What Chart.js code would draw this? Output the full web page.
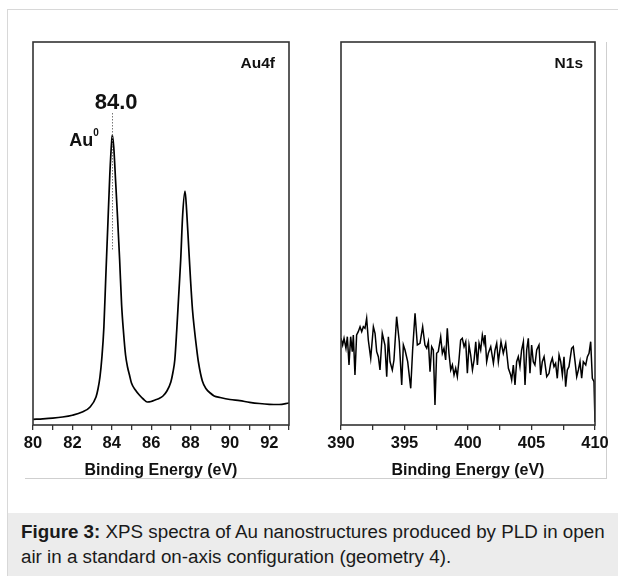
<!DOCTYPE html>
<html>
<head>
<meta charset="utf-8">
<script src="https://cdn.jsdelivr.net/npm/chart.js@4.4.1/dist/chart.umd.min.js"></script>
<style>
  html, body { margin: 0; padding: 0; background: #fff; }
  body { width: 618px; height: 576px; position: relative; overflow: hidden; font-family: "Liberation Sans", Arial, sans-serif; }
  .outer { position: absolute; left: 7px; top: 9px; width: 640px; height: 600px; border-left: 1px solid #d8d8d8; border-top: 1px solid #d8d8d8; }
  .imgedge { position: absolute; left: 25px; top: 42px; width: 581px; height: 436px; border-right: 1px solid #cfcfcf; border-bottom: 1px solid #cfcfcf; }
  .box { position: absolute; top: 0; height: 500px; }
  #boxL { left: 0; width: 310px; }
  #boxR { left: 310px; width: 308px; }
  .caption { position: absolute; left: 8px; top: 513px; width: 610px; height: 63px; background: #ececec; }
  .caption p { margin: 0; position: absolute; left: 13px; top: 6px; font-size: 18.8px; line-height: 25px; color: #1a1a1a; white-space: nowrap; }
</style>
</head>
<body>
<div class="outer"></div>
<div class="imgedge"></div>
<div class="box" id="boxL"><canvas id="chartL"></canvas></div>
<div class="box" id="boxR"><canvas id="chartR"></canvas></div>
<div class="caption"><p><b>Figure 3:</b> XPS spectra of Au nanostructures produced by PLD in open<br>air in a standard on-axis configuration (geometry 4).</p></div>
<script>
// --- DATA: Au4f region ---
const auEnergy = [80.0, 80.5, 81.0, 81.5, 82.0, 82.5, 82.9, 83.2, 83.3, 83.4, 83.5, 83.6, 83.7, 83.8, 83.9, 84.0, 84.03, 84.1,
  84.2, 84.3, 84.4, 84.5, 84.6, 84.7, 84.8, 84.9, 85.0, 85.2, 85.4, 85.6, 85.8, 86.0, 86.2, 86.4, 86.6, 86.8, 87.0, 87.1,
  87.2, 87.3, 87.4, 87.5, 87.6, 87.72, 87.8, 87.9, 88.0, 88.1, 88.2, 88.3, 88.4, 88.6, 88.8, 89.0, 89.2, 89.5, 90.0, 90.5,
  91.0, 91.5, 92.0, 92.5, 93.0];
const auCounts = [5.7, 6.2, 6.9, 8, 9.8, 13, 18, 28, 36, 48, 68, 98, 150, 200, 250, 285, 290, 278,
  242, 205, 165, 120, 92, 70, 58, 50, 42, 35, 30, 26, 23, 23.5, 25, 26.5, 29, 34, 43, 52,
  65, 95, 130, 165, 210, 234, 215, 180, 145, 115, 95, 78, 63, 44, 36, 32, 29, 27.5, 25.5, 24.3,
  22.7, 21.5, 20.7, 20.5, 22];

// --- DATA: N1s region ---
const nEnergy = [390.0, 390.13, 390.24, 390.39, 390.50, 390.63, 390.76, 390.89, 390.97, 391.10, 391.23, 391.36, 391.50,
  391.63, 391.76, 391.89, 392.02, 392.15, 392.34, 392.55, 392.68, 392.81, 392.94, 393.07, 393.25, 393.46, 393.60, 393.73,
  393.86, 394.04, 394.17, 394.38, 394.59, 394.78, 394.91, 395.04, 395.25, 395.49, 395.64, 395.83, 396.01, 396.22, 396.43,
  396.61, 396.75, 396.88, 397.01, 397.14, 397.27, 397.40, 397.53, 397.66, 397.85, 397.98, 398.11, 398.24, 398.37, 398.50,
  398.64, 398.77, 398.90, 399.03, 399.16, 399.29, 399.42, 399.55, 399.69, 399.82, 399.95, 400.08, 400.21, 400.35, 400.48,
  400.61, 400.74, 400.87, 401.00, 401.13, 401.26, 401.34, 401.47, 401.60, 401.79, 402.00, 402.13, 402.26, 402.39, 402.60,
  402.78, 402.97, 403.18, 403.36, 403.44, 403.57, 403.70, 403.83, 403.96, 404.09, 404.22, 404.36, 404.49, 404.62, 404.75,
  404.88, 405.01, 405.14, 405.27, 405.41, 405.59, 405.72, 405.85, 405.99, 406.20, 406.38, 406.51, 406.64, 406.77, 406.90,
  407.03, 407.17, 407.30, 407.43, 407.56, 407.69, 407.82, 407.95, 408.16, 408.29, 408.43, 408.56, 408.69, 408.82, 408.95,
  409.08, 409.27, 409.40, 409.53, 409.66, 409.79, 409.92, 410.0];
const nCounts = [86.7, 80, 86.7, 76.7, 88.3, 60, 88.3, 73.3, 90, 50, 90, 93.3, 98.3,
  93.3, 98.3, 96.7, 106.7, 85, 66.7, 98.3, 91.7, 73.3, 68.3, 55, 91.7, 80, 48.3, 88.3,
  63.3, 55, 65, 108.3, 83.3, 40, 80, 75, 63.3, 36.7, 75, 111.7, 80, 81.7, 98.3,
  80, 76.7, 83.3, 53.3, 78.3, 75, 20, 71.7, 73.3, 88.3, 71.7, 76.7, 65, 96.7, 71.7,
  55, 60, 50, 56.7, 48.3, 65, 85, 86.7, 78.3, 83.3, 51.7, 80, 70, 55, 65,
  83.3, 60, 81.7, 75, 90, 81.7, 90, 63.3, 71.7, 78.3, 61.7, 75, 81.7, 63.3, 83.3,
  71.7, 81.7, 56.7, 50, 45, 60, 40, 63.3, 68.3, 58.3, 75, 83.3, 40, 75, 86.7,
  51.7, 80, 63.3, 60, 75, 80, 50, 63.3, 68.3, 48.3, 51.7, 61.7, 66.7, 58.3, 61.7,
  46.7, 70, 63.3, 50, 68.3, 38.3, 55, 58.3, 76.7, 78.3, 63.3, 48.3, 55, 63.3, 46.7,
  63.3, 60, 68.3, 71.7, 83.3, 46.7, 43.3, 3];

// --- AXES ---
const auTicks = [80, 82, 84, 86, 88, 90, 92];
const nTicks = [390, 395, 400, 405, 410];
const yMax = 383;

const frame = {
  id: 'frame',
  afterDraw(chart) {
    const { ctx, chartArea: a } = chart;
    ctx.save();
    ctx.strokeStyle = '#333';
    ctx.lineWidth = 1.6;
    ctx.strokeRect(a.left, a.top, a.right - a.left, a.bottom - a.top);
    ctx.restore();
  }
};

// annotations for the Au4f panel
const auNotes = {
  id: 'auNotes',
  afterDraw(chart) {
    const { ctx, chartArea: a, scales: { x, y } } = chart;
    ctx.save();
    ctx.fillStyle = '#111';
    ctx.textBaseline = 'alphabetic';
    ctx.font = 'bold 15.5px "Liberation Sans", Arial';
    ctx.textAlign = 'right';
    ctx.fillText('Au4f', a.right - 14, a.top + 26);
    const px = x.getPixelForValue(84.02);
    ctx.font = 'bold 22px "Liberation Sans", Arial';
    ctx.textAlign = 'center';
    ctx.fillText('84.0', px + 4, a.top + 67);
    ctx.textAlign = 'left';
    ctx.font = 'bold 18px "Liberation Sans", Arial';
    ctx.fillText('Au', px - 43, a.top + 104);
    ctx.font = 'bold 10px "Liberation Sans", Arial';
    ctx.fillText('0', px - 19, a.top + 94);
    ctx.strokeStyle = '#777';
    ctx.lineWidth = 1;
    ctx.setLineDash([1.5, 1.5]);
    ctx.beginPath();
    ctx.moveTo(Math.round(px) + 0.5, y.getPixelForValue(312));
    ctx.lineTo(Math.round(px) + 0.5, y.getPixelForValue(174));
    ctx.stroke();
    ctx.restore();
  }
};

const nNotes = {
  id: 'nNotes',
  afterDraw(chart) {
    const { ctx, chartArea: a } = chart;
    ctx.save();
    ctx.fillStyle = '#111';
    ctx.font = 'bold 15.5px "Liberation Sans", Arial';
    ctx.textAlign = 'right';
    ctx.fillText('N1s', a.right - 12, a.top + 26);
    ctx.restore();
  }
};

const buildChart = (id, xs, ys, min, max, step, labels, pad, smooth, notes) => new Chart(document.getElementById(id), {
  type: 'line',
  data: { datasets: [{ data: xs.map((e, i) => ({ x: e, y: ys[i] })), borderColor: '#000', borderWidth: smooth ? 1.7 : 1.5,
    pointRadius: 0, fill: false, cubicInterpolationMode: smooth ? 'monotone' : 'default', tension: 0 }] },
  options: {
    responsive: true, maintainAspectRatio: false, animation: false,
    layout: { padding: pad },
    plugins: { legend: { display: false }, tooltip: { enabled: false } },
    scales: {
      x: {
        type: 'linear', min, max,
        afterBuildTicks: (s) => { s.ticks = []; for (let v = min; v <= max + 1e-9; v += step) s.ticks.push({ value: v }); },
        afterFit: (s) => { s.height = 60; },
        border: { display: false },
        grid: { drawOnChartArea: false, drawTicks: true, tickLength: 5, color: '#333', lineWidth: 1.3 },
        ticks: { padding: 4, color: '#111', font: { family: '"Liberation Sans", Arial', size: 16.5, weight: 'bold' },
          autoSkip: false, maxRotation: 0,
          callback: (v) => labels.includes(v) ? String(v) : '' },
        title: { display: true, text: 'Binding Energy (eV)', color: '#111', padding: { top: 0, bottom: 5 },
          font: { family: '"Liberation Sans", Arial', size: 16, weight: 'bold' } }
      },
      y: { display: false, min: 0, max: yMax }
    }
  },
  plugins: [frame, notes]
});

buildChart('chartL', auEnergy, auCounts, 80, 93, 1, auTicks, { left: 33, right: 21, top: 42, bottom: 15 }, true, auNotes);
buildChart('chartR', nEnergy, nCounts, 390, 410, 2.5, nTicks, { left: 31, right: 23, top: 42, bottom: 15 }, false, nNotes);
</script>
</body>
</html>
